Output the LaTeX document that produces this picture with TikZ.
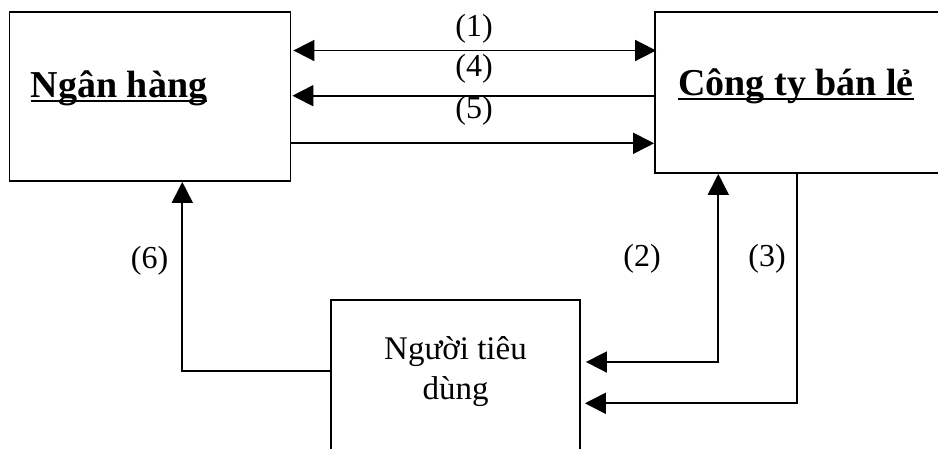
\documentclass[tikz,border=0pt]{standalone}
\usepackage{fontspec}
\setmainfont{Liberation Serif}
\usetikzlibrary{arrows.meta}
\begin{document}
\begin{tikzpicture}[x=1pt,y=-1pt,
  boxnode/.style={draw,line width=1.8pt,inner sep=0pt},
  txt/.style={inner sep=0pt,anchor=base,font=\fontsize{32}{36}\selectfont},
  bigtxt/.style={inner sep=0pt,anchor=base,font=\fontsize{38}{44}\selectfont\bfseries},
  tip/.tip={Triangle[length=21pt,width=21pt]},
  conn/.style={line width=1.7pt,-tip},
  uline/.style={line width=2.4pt}]
\useasboundingbox (0,0) rectangle (938,448);
\clip (0,0) rectangle (938,448);
% boxes
\node[boxnode,minimum width=281pt,minimum height=169pt] (bank) at (150,96.5) {};
\node[boxnode,minimum width=300pt,minimum height=161pt] (shop) at (805,92.5) {};
\node[boxnode,minimum width=249pt,minimum height=170pt] (cons) at (455.5,385) {};
% texts
\node[bigtxt] (bankt) at (119,97) {Ngân hàng};
\node[bigtxt] (shopt) at (796,95) {Công ty bán lẻ};
\draw[uline] ([yshift=-4pt]bankt.base west) -- ([yshift=-4pt]bankt.base east);
\draw[uline] ([yshift=-4pt]shopt.base west) -- ([yshift=-4pt]shopt.base east);
\node[txt,font=\fontsize{33}{36}\selectfont] (c1) at (455.5,359) {Người tiêu};
\node[txt,font=\fontsize{33}{36}\selectfont] (c2) at (455.5,399) {dùng};
% labels
\node[txt] (l1) at (474,36) {(1)};
\node[txt] (l4) at (474,76) {(4)};
\node[txt] (l5) at (474,118) {(5)};
\node[txt] (l6) at (149.5,268) {(6)};
\node[txt] (l2) at (642,266) {(2)};
\node[txt] (l3) at (767,266) {(3)};
% coordinates
\coordinate (b1) at (bank.east |- 0,50.5);
\coordinate (s1) at (shop.west |- 0,50.5);
\coordinate (b4) at (bank.east |- 0,95.7);
\coordinate (s4) at (shop.west |- 0,95.7);
\coordinate (b5) at (bank.east |- 0,143.3);
\coordinate (s5) at (shop.west |- 0,143.3);
\coordinate (k6) at (182.3,370.7);
\coordinate (k2) at (718.3,362);
\coordinate (k3) at (797,403.3);
% connectors
\draw[conn,tip-tip] ([xshift=2pt]b1) -- ([xshift=2pt]s1);
\draw[conn] (s4) -- ([xshift=1pt]b4);
\draw[conn] (b5) -- (s5);
\draw[conn] (cons.west |- k6) -- (k6) -- (k6 |- bank.south);
\draw[conn,tip-tip] ([xshift=5pt]cons.east |- k2) -- (k2) -- (k2 |- shop.south);
\draw[conn] (k3 |- shop.south) -- (k3) -- ([xshift=4pt]cons.east |- k3);
\end{tikzpicture}
\end{document}
